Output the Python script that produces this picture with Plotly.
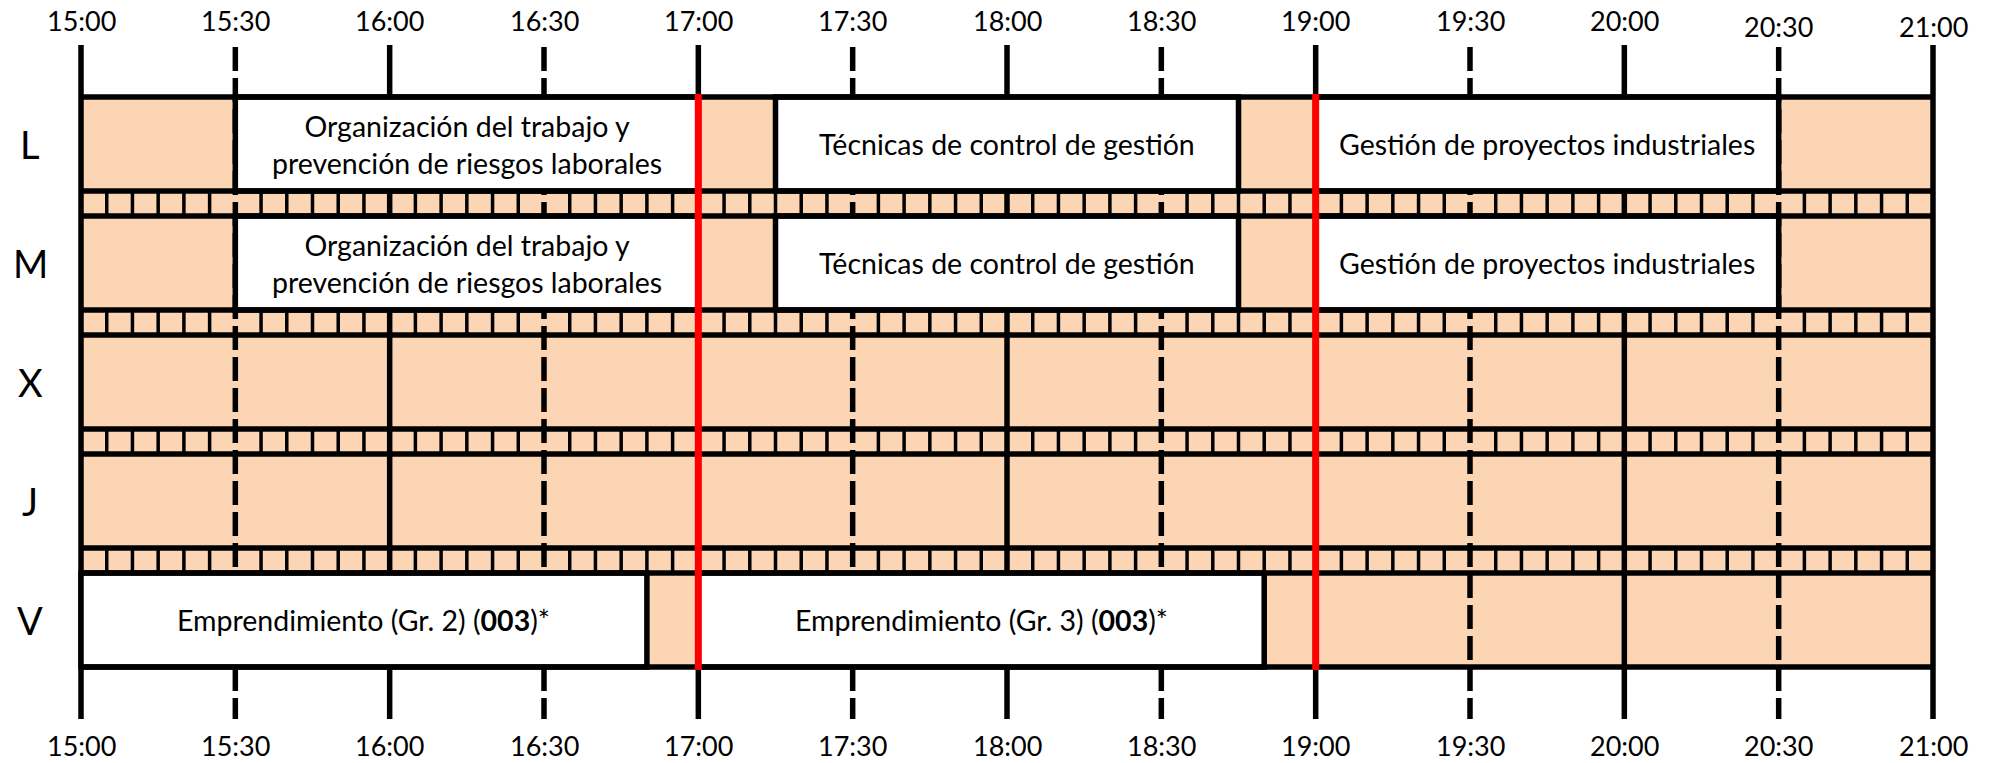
import plotly.graph_objects as go

# ---------------- data ----------------
days = ["L", "M", "X", "J", "V"]
tick_labels = ["15:00", "15:30", "16:00", "16:30", "17:00", "17:30", "18:00",
               "18:30", "19:00", "19:30", "20:00", "20:30", "21:00"]

ev_day = ["L", "L", "L", "M", "M", "M", "V", "V"]
ev_start = ["15:30", "17:15", "19:00", "15:30", "17:15", "19:00", "15:00", "17:00"]
ev_end = ["17:00", "18:45", "20:30", "17:00", "18:45", "20:30", "16:50", "18:50"]
ev_label = [
    "Organización del trabajo y<br>prevención de riesgos laborales",
    "Técnicas de control de gestión",
    "Gestión de proyectos industriales",
    "Organización del trabajo y<br>prevención de riesgos laborales",
    "Técnicas de control de gestión",
    "Gestión de proyectos industriales",
    "Emprendimiento (Gr. 2) (<b>003</b>)*",
    "Emprendimiento (Gr. 3) (<b>003</b>)*",
]
highlight_times = ["17:00", "19:00"]
slot_minutes = 5

# ---------------- styling / geometry ----------------
W, H = 1990, 763
PEACH = "#FCD5B5"
FONT = "Lato"
ROW_H = 94
PERIOD = 119
TOP_LABEL_YSHIFT = {"20:30": -6, "21:00": -6}


def tmin(s):
    h, m = s.split(":")
    return int(h) * 60 + int(m)


T0 = tmin(tick_labels[0])
T1 = tmin(tick_labels[-1])
px_per_min = (1933 - 81) / (T1 - T0)
x_lo = T0 - 81 / px_per_min
x_hi = x_lo + W / px_per_min
y_top_px = 97
table_bottom = (len(days) - 1) * PERIOD + ROW_H

shapes = []
# peach background of table
shapes.append(dict(type="rect", xref="x", yref="y", x0=T0, x1=T1, y0=0, y1=table_bottom,
                   fillcolor=PEACH, line=dict(width=0), layer="above"))

# hour / half-hour lines (including ticks above and below)
for lbl in tick_labels:
    t = tmin(lbl)
    solid = (t % 60 == 0)
    shapes.append(dict(type="line", xref="x", yref="y", x0=t, x1=t,
                       y0=(-52 if solid else -50), y1=622,
                       line=dict(color="black", width=5.5, dash=("solid" if solid else "24px,7px"))))

# separator slots
for i in range(len(days) - 1):
    ys0 = i * PERIOD + ROW_H
    ys1 = (i + 1) * PERIOD
    for t in range(T0 + slot_minutes, T1, slot_minutes):
        if t % 30 == 0:
            continue
        shapes.append(dict(type="line", xref="x", yref="y", x0=t, x1=t, y0=ys0, y1=ys1,
                           line=dict(color="black", width=3.5)))

# white event boxes
for d, s, e in zip(ev_day, ev_start, ev_end):
    i = days.index(d)
    shapes.append(dict(type="rect", xref="x", yref="y", x0=tmin(s), x1=tmin(e),
                       y0=i * PERIOD, y1=i * PERIOD + ROW_H,
                       fillcolor="white", line=dict(color="black", width=5.5)))

# horizontal borders
for i in range(len(days)):
    for yy in (i * PERIOD, i * PERIOD + ROW_H):
        shapes.append(dict(type="line", xref="x", yref="y", x0=T0, x1=T1, y0=yy, y1=yy,
                           line=dict(color="black", width=5.5)))

# red highlight lines
for h in highlight_times:
    t = tmin(h)
    shapes.append(dict(type="line", xref="x", yref="y", x0=t, x1=t, y0=-3, y1=table_bottom + 3,
                       line=dict(color="#FF0000", width=7)))

annotations = []
for lbl in tick_labels:
    t = tmin(lbl)
    for yy, ysh in ((-77, TOP_LABEL_YSHIFT.get(lbl, 0)), (648, 0)):
        annotations.append(dict(x=t, y=yy, xref="x", yref="y", text=lbl, showarrow=False,
                                yshift=ysh,
                                font=dict(family=FONT, size=27, color="black"),
                                xanchor="center", yanchor="middle"))

for i, d in enumerate(days):
    annotations.append(dict(x=30 / W, y=i * PERIOD + ROW_H / 2, xref="paper", yref="y",
                            text=d, showarrow=False,
                            font=dict(family=FONT, size=38, color="black"),
                            xanchor="center", yanchor="middle"))

for d, s, e, lab in zip(ev_day, ev_start, ev_end, ev_label):
    i = days.index(d)
    annotations.append(dict(x=(tmin(s) + tmin(e)) / 2, y=i * PERIOD + ROW_H / 2,
                            xref="x", yref="y", text=lab, showarrow=False,
                            font=dict(family=FONT, size=28.5, color="black"),
                            xanchor="center", yanchor="middle"))

fig = go.Figure()
fig.add_trace(go.Scatter(x=[T0, T1], y=[0, table_bottom], mode="markers",
                         marker=dict(opacity=0), hoverinfo="skip", showlegend=False))
fig.update_layout(
    width=W, height=H,
    margin=dict(l=0, r=0, t=0, b=0),
    paper_bgcolor="white", plot_bgcolor="white",
    xaxis=dict(range=[x_lo, x_hi], visible=False, fixedrange=True),
    yaxis=dict(range=[H - y_top_px, -y_top_px], visible=False, fixedrange=True),
    shapes=shapes, annotations=annotations, showlegend=False,
)
fig.write_html("out.html", config={"displayModeBar": False},
               post_script="document.body.style.margin='0';document.body.style.overflow='hidden';")
